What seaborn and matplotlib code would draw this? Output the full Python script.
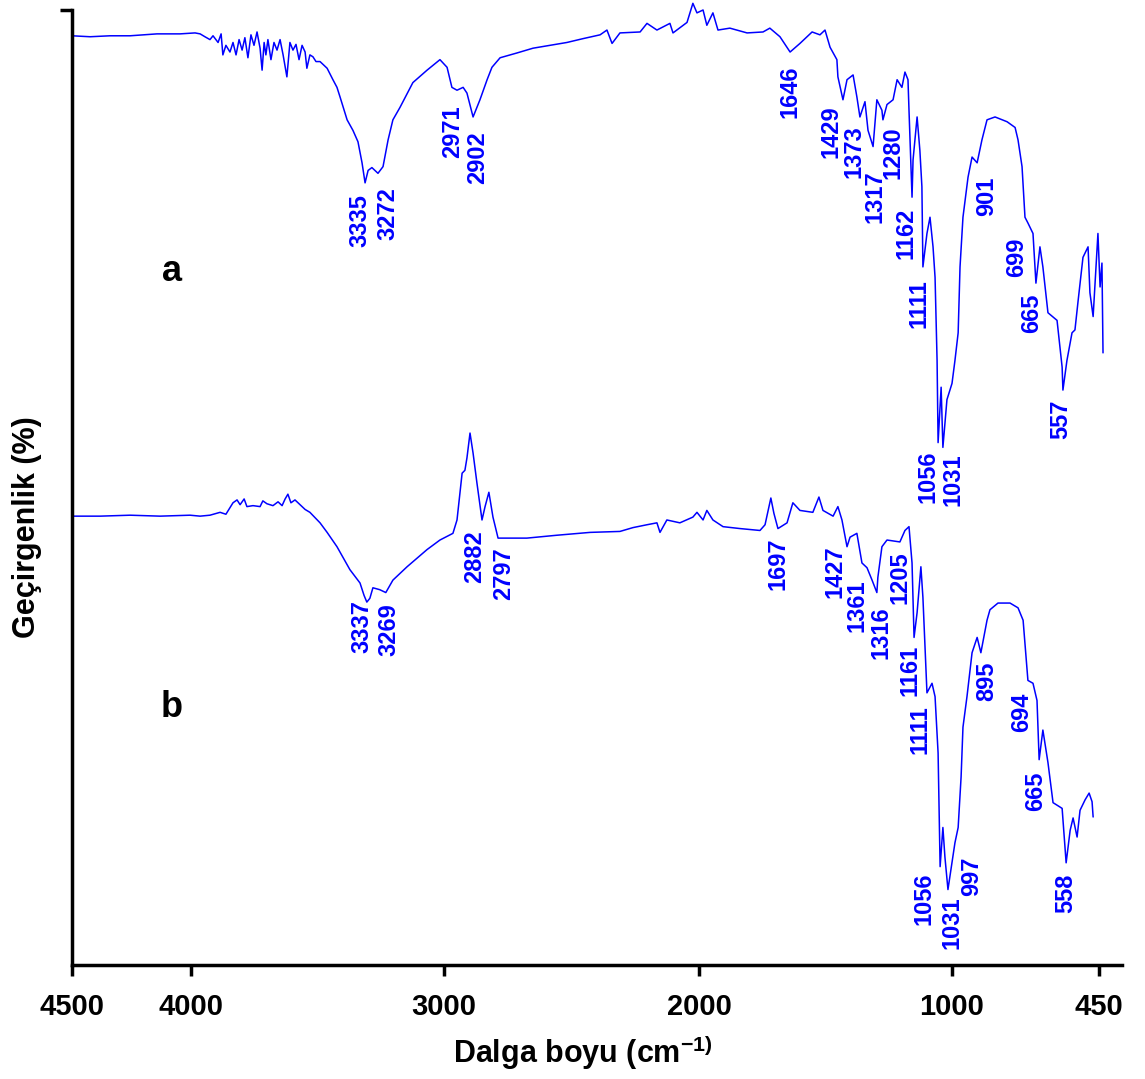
import numpy as np
import matplotlib
matplotlib.use("Agg")
import matplotlib.pyplot as plt
import seaborn as sns
import pandas as pd

# ---------------- data ----------------
# curve a
a_wn = [4500, 4424, 4340, 4256, 4143, 4046, 3984, 3964, 3945, 3925,
        3913, 3893, 3881, 3874, 3862, 3846, 3834, 3822, 3810, 3798,
        3787, 3775, 3763, 3751, 3739, 3727, 3719, 3711, 3704, 3696,
        3684, 3672, 3660, 3648, 3636, 3621, 3609, 3597, 3585, 3573,
        3561, 3549, 3542, 3530, 3518, 3506, 3490, 3462, 3439, 3423,
        3411, 3383, 3360, 3340, 3324, 3312, 3300, 3285, 3261, 3241,
        3221, 3202, 3174, 3123, 3067, 3016, 2988, 2969, 2949, 2925,
        2910, 2886, 2859, 2831, 2812, 2780, 2714, 2651, 2584, 2518,
        2455, 2388, 2361, 2341, 2310, 2231, 2204, 2165, 2114, 2102,
        2047, 2024, 2008, 1984, 1969, 1945, 1925, 1878, 1810, 1747,
        1720, 1680, 1640, 1601, 1553, 1522, 1502, 1482, 1455, 1451,
        1431, 1415, 1391, 1376, 1364, 1344, 1332, 1312, 1297, 1277,
        1273, 1257, 1233, 1217, 1198, 1186, 1174, 1170, 1158, 1154,
        1138, 1127, 1119, 1115, 1099, 1087, 1075, 1067, 1059, 1055,
        1043, 1036, 1020, 1000, 989, 977, 970, 959, 940, 925,
        906, 888, 869, 839, 794, 764, 753, 738, 727, 716,
        697, 686, 671, 660, 641, 607, 588, 585, 570, 551,
        540, 528, 510, 491, 484, 472, 454, 446, 439, 435]
a_T = [97.3, 97.2, 97.3, 97.3, 97.5, 97.5, 97.6, 97.5, 97.2, 96.9,
       97.3, 96.6, 97.5, 95.3, 96.3, 95.6, 96.6, 95.3, 96.9, 95.8,
       97.1, 95.0, 97.4, 96.3, 97.7, 96.0, 93.7, 96.6, 95.3, 96.9,
       94.8, 96.6, 95.8, 96.9, 95.3, 93.0, 96.6, 95.8, 96.4, 94.8,
       96.3, 95.6, 93.9, 95.3, 95.1, 94.6, 94.6, 93.9, 92.7, 91.9,
       90.9, 88.5, 87.4, 86.2, 84.0, 81.9, 83.2, 83.5, 82.9, 83.6,
       86.4, 88.5, 89.8, 92.4, 93.7, 94.8, 94.0, 91.9, 91.6, 91.9,
       91.3, 88.8, 90.6, 92.7, 94.0, 95.0, 95.5, 96.0, 96.3, 96.6,
       97.0, 97.4, 97.9, 96.5, 97.6, 97.7, 98.6, 97.9, 98.6, 97.6,
       98.7, 100.7, 99.7, 100.0, 98.4, 99.7, 97.9, 98.1, 97.6, 97.7,
       98.1, 97.2, 95.6, 96.5, 97.7, 97.4, 97.9, 96.1, 94.8, 93.0,
       90.6, 92.7, 93.2, 90.9, 88.8, 90.4, 87.4, 85.7, 90.6, 89.5,
       88.5, 90.1, 90.6, 92.7, 91.9, 93.5, 92.7, 89.5, 80.4, 84.3,
       88.8, 85.3, 81.5, 73.1, 76.6, 78.3, 75.2, 72.0, 63.3, 54.7,
       60.5, 54.2, 59.2, 60.9, 63.3, 66.2, 73.1, 78.3, 82.5, 84.6,
       84.0, 86.4, 88.5, 88.8, 88.3, 87.7, 86.4, 83.6, 78.3, 77.7,
       76.6, 71.4, 75.2, 73.1, 68.3, 67.5, 62.6, 60.2, 63.3, 66.2,
       66.5, 69.6, 74.1, 75.2, 70.4, 67.9, 76.6, 71.0, 73.5, 64.1]

# curve b
b_wn = [4500, 4382, 4256, 4130, 4004, 3964, 3925, 3885, 3862, 3834,
        3818, 3806, 3790, 3779, 3755, 3727, 3716, 3700, 3676, 3656,
        3640, 3628, 3617, 3605, 3589, 3569, 3549, 3530, 3490, 3462,
        3423, 3372, 3332, 3316, 3305, 3293, 3281, 3254, 3230, 3202,
        3146, 3067, 3016, 2965, 2949, 2929, 2918, 2910, 2898, 2886,
        2871, 2851, 2839, 2824, 2808, 2788, 2675, 2558, 2427, 2310,
        2259, 2204, 2165, 2153, 2126, 2075, 2024, 2008, 1984, 1969,
        1945, 1905, 1838, 1759, 1739, 1716, 1704, 1688, 1652, 1629,
        1601, 1550, 1526, 1510, 1470, 1451, 1435, 1415, 1403, 1376,
        1356, 1336, 1316, 1297, 1293, 1277, 1257, 1206, 1186, 1170,
        1158, 1150, 1138, 1123, 1115, 1099, 1079, 1067, 1055, 1047,
        1036, 1028, 1016, 1000, 989, 977, 966, 959, 944, 925,
        906, 892, 869, 858, 828, 783, 753, 734, 716, 697,
        682, 674, 660, 641, 622, 588, 573, 558, 547, 532,
        521, 502, 487, 476, 472]
b_T = [47.0, 47.0, 47.1, 47.0, 47.1, 47.0, 47.1, 47.4, 47.2, 48.4,
       48.7, 48.2, 48.8, 48.0, 48.1, 48.0, 48.6, 48.3, 48.1, 48.5,
       48.1, 48.8, 49.3, 48.4, 48.7, 48.2, 47.7, 47.4, 46.3, 45.3,
       43.8, 41.4, 40.0, 38.7, 38.0, 38.4, 39.5, 39.3, 39.0, 40.3,
       41.7, 43.5, 44.5, 45.2, 46.6, 51.5, 51.8, 53.1, 55.7, 53.6,
       50.5, 46.6, 48.0, 49.5, 46.9, 44.7, 44.7, 45.0, 45.3, 45.4,
       45.8, 46.1, 46.3, 45.3, 46.6, 46.3, 46.9, 47.4, 46.6, 47.6,
       46.6, 45.9, 45.7, 45.5, 46.1, 48.9, 47.3, 45.7, 46.3, 48.4,
       47.6, 47.4, 49.0, 47.6, 47.0, 48.0, 46.6, 43.8, 44.8, 45.2,
       42.1, 41.6, 40.3, 39.0, 40.6, 43.8, 44.5, 44.3, 45.5, 45.9,
       42.1, 34.3, 36.9, 41.7, 38.5, 28.5, 29.5, 28.1, 22.2, 10.3,
       14.4, 11.3, 7.9, 10.7, 12.8, 14.4, 19.7, 24.9, 28.1, 32.7,
       34.3, 32.7, 36.1, 37.2, 37.9, 37.9, 37.4, 36.1, 29.8, 29.5,
       27.7, 21.5, 24.6, 21.2, 17.0, 16.4, 10.7, 14.1, 15.4, 13.4,
       16.2, 17.3, 18.0, 17.1, 15.5]

# peak labels (text, anchor wavenumber, anchor transmittance)
a_lab_txt = ["3335", "3272", "2971", "2902", "1646", "1429", "1373", "1317",
             "1280", "1162", "1111", "1056", "1031", "901", "699", "665", "557"]
a_lab_wn = [3332, 3222, 2965, 2867, 1640, 1478, 1387, 1304,
            1233, 1182, 1131, 1095, 996, 869, 757, 701, 592]
a_lab_T = [78.0, 78.7, 87.3, 84.5, 91.4, 87.3, 85.2, 80.4,
           85.1, 76.6, 69.3, 51.1, 50.8, 80.5, 74.1, 68.2, 57.1]

b_lab_txt = ["3337", "3269", "2882", "2797", "1697", "1427", "1361", "1316",
             "1205", "1161", "1111", "1056", "1031", "997", "895", "694",
             "665", "558"]
b_lab_wn = [3324, 3218, 2878, 2765, 1688, 1462, 1376, 1281,
            1206, 1166, 1127, 1111, 1000, 925, 869, 738, 689, 573]
b_lab_T = [35.4, 35.1, 42.8, 41.0, 42.0, 41.2, 37.6, 34.8,
           40.6, 30.9, 24.6, 6.9, 4.4, 9.3, 29.7, 26.5, 18.2, 7.5]

x_ticks = [4500, 4000, 3000, 2000, 1000, 450]
x_tick_labels = ["4500", "4000", "3000", "2000", "1000", "450"]

# axis of the reference: wavenumber -> horizontal position (it is not exactly linear)
AX_WN = np.array([0, 450, 1000, 2000, 3000, 4000, 4500, 6000], dtype=float)
AX_POS = np.array([1219.3, 1099, 952, 699, 444, 191, 72, -285], dtype=float)

# ---------------- style ----------------
sns.set_theme(style="white")
FONT = ["Liberation Sans Narrow", "Liberation Sans", "DejaVu Sans"]
plt.rcParams["font.family"] = FONT
plt.rcParams["text.color"] = "black"
plt.rcParams["axes.labelcolor"] = "black"
plt.rcParams["xtick.color"] = "black"
plt.rcParams["ytick.color"] = "black"
plt.rcParams["mathtext.fontset"] = "custom"
plt.rcParams["mathtext.rm"] = "Liberation Sans"
plt.rcParams["mathtext.bf"] = "Liberation Sans:bold"

BLUE = "#0000ff"

fig = plt.figure(figsize=(11.45, 10.79), dpi=100)
ax = fig.add_axes([72 / 1145, 114 / 1079, 1050 / 1145, 955 / 1079])


def fwd(w):
    return -np.interp(w, AX_WN, AX_POS)


def inv(v):
    return np.interp(v, -AX_POS, AX_WN)


ax.set_xscale("function", functions=(fwd, inv))

df_a = pd.DataFrame({"wn": a_wn, "T": a_T})
df_b = pd.DataFrame({"wn": b_wn, "T": b_T})
sns.lineplot(data=df_a, x="wn", y="T", sort=False, estimator=None,
             color=BLUE, lw=1.1, ax=ax, clip_on=False)
sns.lineplot(data=df_b, x="wn", y="T", sort=False, estimator=None,
             color=BLUE, lw=1.1, ax=ax, clip_on=False)

for txt, w, t in zip(a_lab_txt + b_lab_txt, a_lab_wn + b_lab_wn, a_lab_T + b_lab_T):
    ax.text(w, t, txt, rotation=90, ha="center", va="center", color=BLUE,
            fontsize=17, fontweight="bold")

ax.text(4080, 72.6, "a", ha="center", va="center", fontsize=26,
        fontweight="bold", color="black", family=["Liberation Sans", "DejaVu Sans"])
ax.text(4080, 27.0, "b", ha="center", va="center", fontsize=26,
        fontweight="bold", color="black", family=["Liberation Sans", "DejaVu Sans"])

ax.set_xlim(4500, 364)
ax.set_ylim(0, 100)
ax.set_xticks(x_ticks)
ax.set_xticklabels(x_tick_labels)
ax.set_yticks([100])
ax.set_yticklabels([""])
ax.minorticks_off()
ax.tick_params(axis="x", direction="out", length=8, width=2.5, pad=12,
               labelsize=21, colors="black", bottom=True)
ax.tick_params(axis="y", direction="out", length=9, width=2.5, left=True,
               colors="black")
for lbl in ax.get_xticklabels():
    lbl.set_fontweight("bold")
    lbl.set_color("black")

for s in ["top", "right"]:
    ax.spines[s].set_visible(False)
for s in ["left", "bottom"]:
    ax.spines[s].set_color("black")
    ax.spines[s].set_linewidth(2.5)

ax.set_xlabel("")
ax.set_ylabel("")
fig.text(583 / 1145, 1 - 1052 / 1079, r"Dalga boyu (cm$^{\mathbf{-1)}}$",
         ha="center", va="center", fontsize=22, fontweight="bold",
         color="black", family=["Liberation Sans", "DejaVu Sans"])
fig.text(27 / 1145, 1 - 527 / 1079, "Geçirgenlik (%)", rotation=90,
         ha="center", va="center", fontsize=22, fontweight="bold",
         color="black", family=["Liberation Sans", "DejaVu Sans"])

fig.savefig("out.png", dpi=100, facecolor="white")
